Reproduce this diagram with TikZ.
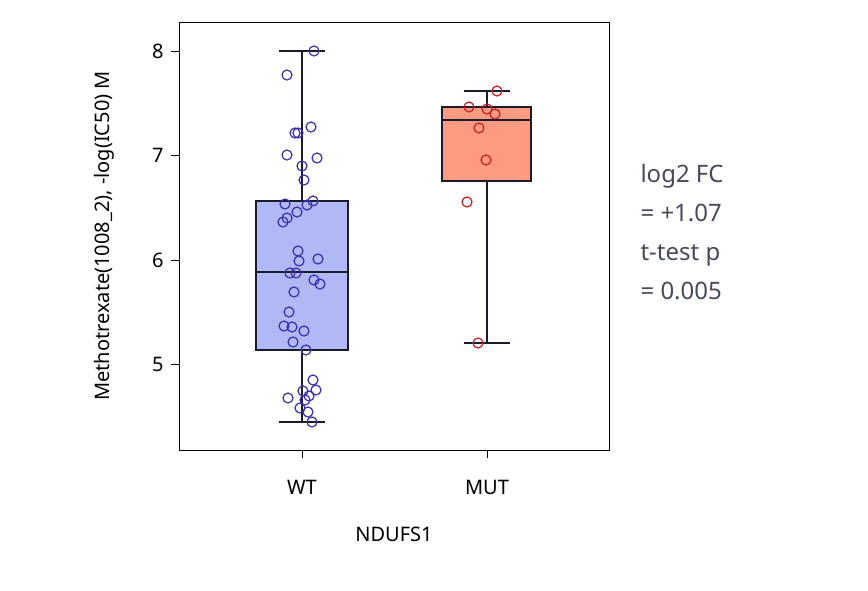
\documentclass[tikz,border=0pt]{standalone}
\usepackage{fontspec}
\setmainfont{Noto Sans}
\definecolor{ln}{HTML}{1A1C2E}
\definecolor{wb}{HTML}{3A2FB0}
\definecolor{wf}{HTML}{B0B8F5}
\definecolor{mf}{HTML}{FF9A82}
\definecolor{mr}{HTML}{C81E1E}
\definecolor{st}{HTML}{454B5C}
\begin{document}
\begin{tikzpicture}[x=1pt,y=-1pt,
  box/.style={draw=ln,line width=2pt},
  wl/.style={draw=ln,line width=2pt},
  wpt/.style={draw=wb,line width=1.2pt},
  mpt/.style={draw=mr,line width=1.2pt},
  tick/.style={font=\fontsize{20}{23}\selectfont}]
\useasboundingbox (0,0) rectangle (868,590);
\node[draw=black,line width=1.2pt,minimum width=430pt,minimum height=428pt,anchor=north west,inner sep=0] (frame) at (179,22) {};
\foreach \v/\y in {8/51,7/155,6/260,5/364}{
  \draw[line width=1pt] (179,\y) -- (171,\y);
  \node[tick,anchor=east] (t\v) at (167,\y) {\v};}
\foreach \x/\t/\n in {302/WT/wt,487/MUT/mut}{
  \draw[line width=1pt] (\x,450) -- (\x,458);
  \node[tick] (x\n) at (\x,487) {\t};}
\node[tick] (xl) at (394,534) {NDUFS1};
\node[tick,rotate=90] (yl) at (104,236) {Methotrexate(1008\_2), -log(IC50) M};
\draw[wl] (302,51) -- (302,422);
\draw[wl] (279,51) -- (325,51);
\draw[wl] (279,422) -- (325,422);
\filldraw[box,fill=wf] (256,201) rectangle (348,350);
\draw[wl] (256,272) -- (348,272);
\draw[wl] (487,91) -- (487,343);
\draw[wl] (464,91) -- (510,91);
\draw[wl] (464,343) -- (510,343);
\filldraw[box,fill=mf] (442,107) rectangle (531,181);
\draw[wl] (442,120) -- (531,120);
\foreach \a/\b in {314/51,287/75,311/127,295/133,298/133,287/155,317/158,302/166,304/180,313/201,307/205,285/204,297/212,287/218,283/222,
298/251,299/261,318/259,290/273,296/273,314/280,320/284,294/292,289/312,284/326,292/327,304/331,293/342,306/350,313/380,303/391,316/390,288/398,309/396,305/400,300/408,308/412,312/422}
  \draw[wpt] (\a,\b) circle (5);
\foreach \a/\b in {497/91,469/107,487/109,495/114,479/128,486/160,467/202,478/343}
  \draw[mpt] (\a,\b) circle (5);
\node[anchor=north west,align=left,text=st,font=\fontsize{24}{39}\selectfont] (stat) at (637,161) {log2 FC\\= +1.07\\t-test p\\= 0.005};
\end{tikzpicture}
\end{document}
